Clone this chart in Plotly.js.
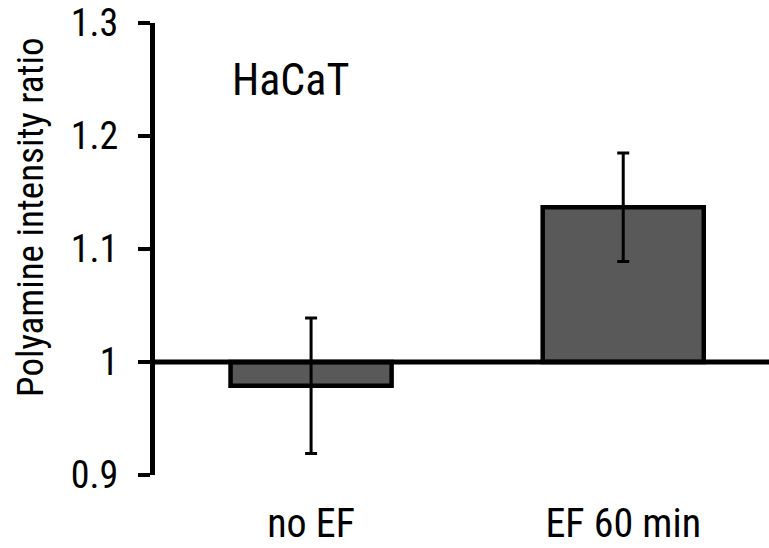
<!DOCTYPE html>
<html>
<head>
<meta charset="utf-8">
<script src="https://cdn.plot.ly/plotly-3.0.1.min.js"></script>
<style>html,body{margin:0;padding:0;background:#fff;}#chart{width:769px;height:548px;}</style>
</head>
<body>
<div id="chart"></div>
<script>
var categories = ["no EF", "EF 60 min"];
var ratios = [0.979, 1.137];
var errors = [0.06, 0.048];
var yTicks = [0.9, 1, 1.1, 1.2, 1.3];
var yTickLabels = ["0.9", "1", "1.1", "1.2", "1.3"];
var baseline = 1;

var FONT = "'Roboto Condensed', 'DejaVu Sans Condensed', sans-serif";

var trace = {
  type: "bar",
  x: categories,
  y: ratios.map(function(v){ return v - baseline; }),
  base: baseline,
  marker: {color: "#595959", line: {color: "#000", width: 4.5}},
  error_y: {type: "data", array: errors, visible: true, color: "#000", thickness: 3, width: 6},
  hoverinfo: "skip"
};

var layout = {
  width: 769, height: 548,
  margin: {l: 155, r: 0, t: 23, b: 73},
  paper_bgcolor: "#fff", plot_bgcolor: "#fff",
  showlegend: false,
  bargap: 0.484,
  font: {family: FONT, size: 37, color: "#000"},
  xaxis: {
    type: "category",
    range: [-0.5, 1.467],
    showline: false, showgrid: false, zeroline: false,
    ticks: "", ticklabelstandoff: 21,
    tickfont: {family: FONT, size: 40, color: "#000"}
  },
  yaxis: {
    range: [0.9, 1.3],
    tickmode: "array", tickvals: yTicks, ticktext: yTickLabels,
    showline: true, linecolor: "#000", linewidth: 5,
    ticks: "outside", ticklen: 12, tickwidth: 4, tickcolor: "#000",
    ticklabelstandoff: 12,
    showgrid: false, zeroline: false,
    tickfont: {family: FONT, size: 38, color: "#000"}
  },
  shapes: [{
    type: "line", xref: "paper", yref: "y",
    x0: 0, x1: 1, y0: baseline, y1: baseline,
    line: {color: "#000", width: 5}, layer: "above"
  }],
  annotations: [
    {text: "HaCaT", xref: "paper", yref: "paper", x: 0.22, y: 0.874,
     xanchor: "center", yanchor: "middle", showarrow: false,
     font: {family: FONT, size: 44, color: "#000"}},
    {text: "Polyamine intensity ratio", xref: "paper", yref: "paper", x: -0.202, y: 0.571,
     xanchor: "center", yanchor: "middle", textangle: -90, showarrow: false,
     font: {family: FONT, size: 37, color: "#000"}}
  ]
};

Plotly.newPlot("chart", [trace], layout, {staticPlot: true, displayModeBar: false});
</script>
</body>
</html>
